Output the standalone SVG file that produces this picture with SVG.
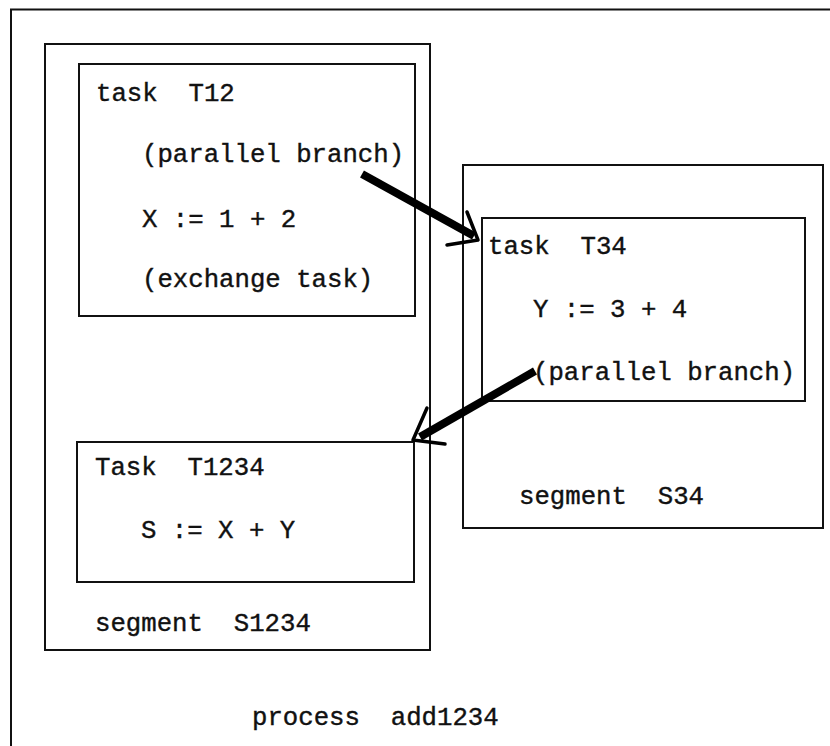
<svg xmlns="http://www.w3.org/2000/svg" width="830" height="746" viewBox="0 0 830 746">
<style>
.box{fill:none;stroke:#111;stroke-width:2}
.t{font-family:"Liberation Mono","Courier New",monospace;font-size:25.7px;fill:#111;stroke:#111;stroke-width:0.4;white-space:pre}
.shaft{fill:none;stroke:#000;stroke-width:8;stroke-linecap:butt}
.head{fill:none;stroke:#000;stroke-width:3.5;stroke-linecap:round;stroke-linejoin:round}
</style>
<rect width="830" height="746" fill="#fff"/>
<g id="process_add1234">
<path class="box" d="M11,746 V9.5 H830"/>
<text class="t" x="252" y="725" xml:space="preserve">process  add1234</text>
</g>
<g id="segment_S1234">
<rect class="box" x="45" y="44" width="385" height="606"/>
<text class="t" x="95" y="631" xml:space="preserve">segment  S1234</text>
</g>
<g id="task_T12">
<rect class="box" x="79" y="64" width="336" height="252"/>
<text class="t" x="96" y="101" xml:space="preserve">task  T12</text>
<text class="t" x="142" y="162">(parallel branch)</text>
<text class="t" x="142" y="227">X := 1 + 2</text>
<text class="t" x="142" y="287">(exchange task)</text>
</g>
<g id="task_T1234">
<rect class="box" x="77" y="442" width="337" height="140"/>
<text class="t" x="95" y="475" xml:space="preserve">Task  T1234</text>
<text class="t" x="141" y="538">S := X + Y</text>
</g>
<g id="segment_S34">
<rect class="box" x="463" y="165" width="360" height="363"/>
<text class="t" x="519" y="504" xml:space="preserve">segment  S34</text>
</g>
<g id="task_T34">
<rect class="box" x="482" y="218" width="323" height="183"/>
<text class="t" x="488" y="254" xml:space="preserve">task  T34</text>
<text class="t" x="533" y="317">Y := 3 + 4</text>
<text class="t" x="533" y="380">(parallel branch)</text>
</g>
<g id="connectors">
<path class="shaft" d="M362,174 L474,236"/>
<path class="head" d="M467,212 L478,240 L447,245"/>
<path class="shaft" d="M535,371 L420,437"/>
<path class="head" d="M427,408 L413,440 L445,444"/>
</g>
</svg>
